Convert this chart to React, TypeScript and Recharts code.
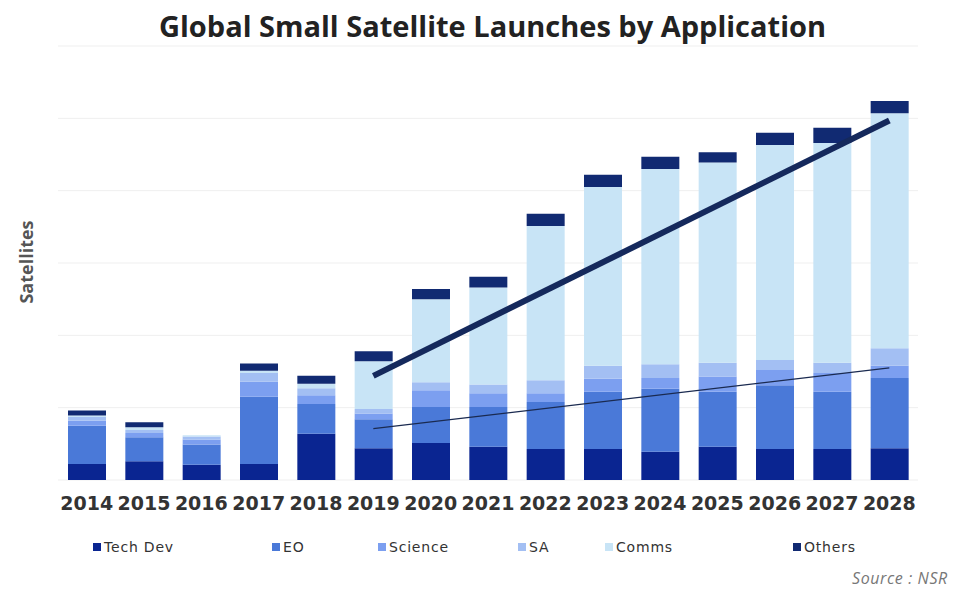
import { ComposedChart, Bar, Line, XAxis, YAxis, CartesianGrid } from "recharts";

const years = ["2014", "2015", "2016", "2017", "2018", "2019", "2020", "2021", "2022", "2023", "2024", "2025", "2026", "2027", "2028"];

const techDev = [22, 26, 21, 22, 64, 44, 51, 46, 43, 43, 39, 46, 43, 43, 44];
const eo = [53, 33, 28, 93, 41, 40, 50, 55, 65, 79, 87, 76, 88, 79, 97];
const science = [7, 6, 7, 21, 12, 8, 23, 19, 12, 18, 15, 21, 21, 26, 17];
const sa = [5, 4, 4, 12, 10, 6, 11, 12, 18, 18, 19, 19, 14, 14, 24];
const comms = [2, 4, 2, 3, 6, 66, 115, 134, 213, 247, 270, 277, 297, 304, 325];
const others = [7, 7, 0, 10, 11, 14, 14, 15, 17, 17, 17, 14, 17, 21, 17];

// hand-drawn trend lines, only two end points each
const trendTotal: (number | null)[] = [null, null, null, null, null, 144, null, null, null, null, null, null, null, null, 497];
const trendBase: (number | null)[] = [null, null, null, null, null, 71, null, null, null, null, null, null, null, null, 155];

const yTicks = [0, 100, 200, 300, 400, 500, 600];

const series = [
  { key: "techDev", name: "Tech Dev", color: "#0a2591" },
  { key: "eo", name: "EO", color: "#4a79d8" },
  { key: "science", name: "Science", color: "#7c9ff0" },
  { key: "sa", name: "SA", color: "#a3bff3" },
  { key: "comms", name: "Comms", color: "#c8e4f6" },
  { key: "others", name: "Others", color: "#112a72" },
];

const legendLeft = [93, 272, 378, 518, 605, 793];

const data = years.map((year, i) => ({
  year,
  techDev: techDev[i],
  eo: eo[i],
  science: science[i],
  sa: sa[i],
  comms: comms[i],
  others: others[i],
  trendTotal: trendTotal[i],
  trendBase: trendBase[i],
}));

export default function App() {
  return (
    <div style={{ position: "absolute", left: 0, top: 0, width: 955, height: 589, background: "#fff", overflow: "hidden", fontFamily: "'DejaVu Sans', sans-serif" }}>
      <div style={{ position: "absolute", left: 0, width: 985, top: 6, textAlign: "center", fontFamily: "'Open Sans', sans-serif", fontWeight: 700, fontSize: 29, color: "#222", whiteSpace: "nowrap" }}>
        Global Small Satellite Launches by Application
      </div>
      <div style={{ position: "absolute", left: 26, top: 262, transform: "translate(-50%, -50%) rotate(-90deg)", fontFamily: "'Open Sans', sans-serif", fontWeight: 700, fontSize: 18, color: "#555", whiteSpace: "nowrap" }}>
        Satellites
      </div>
      <div style={{ position: "absolute", left: 0, top: 0 }}>
        <ComposedChart width={955} height={589} data={data} margin={{ top: 46, right: 37, bottom: 79, left: 58 }}>
          <CartesianGrid vertical={false} stroke="#efefef" />
          <XAxis
            dataKey="year"
            axisLine={false}
            tickLine={false}
            height={30}
            tickMargin={11}
            interval={0}
            tick={{ fill: "#333", fontSize: 19, fontWeight: 700, fontFamily: "'DejaVu Sans', sans-serif" }}
          />
          <YAxis hide domain={[0, 600]} ticks={yTicks} />
          {series.map((s) => (
            <Bar key={s.key} dataKey={s.key} name={s.name} stackId="a" fill={s.color} barSize={38} isAnimationActive={false} />
          ))}
          <Line dataKey="trendBase" stroke="#1a2a50" strokeWidth={1.3} dot={false} connectNulls legendType="none" isAnimationActive={false} />
          <Line dataKey="trendTotal" stroke="#15295c" strokeWidth={6} dot={false} connectNulls legendType="none" isAnimationActive={false} />
        </ComposedChart>
      </div>
      {series.map((s, i) => (
        <div key={s.key} style={{ position: "absolute", left: legendLeft[i], top: 539, display: "flex", alignItems: "center", fontSize: 14, letterSpacing: 0.8, color: "#333" }}>
          <span style={{ display: "inline-block", width: 8, height: 8, background: s.color, marginRight: 3 }} />
          {s.name}
        </div>
      ))}
      <div style={{ position: "absolute", left: 852, top: 567, fontFamily: "'Open Sans', sans-serif", fontStyle: "italic", fontSize: 16, letterSpacing: 0.6, color: "#777", whiteSpace: "nowrap" }}>
        Source : NSR
      </div>
    </div>
  );
}
